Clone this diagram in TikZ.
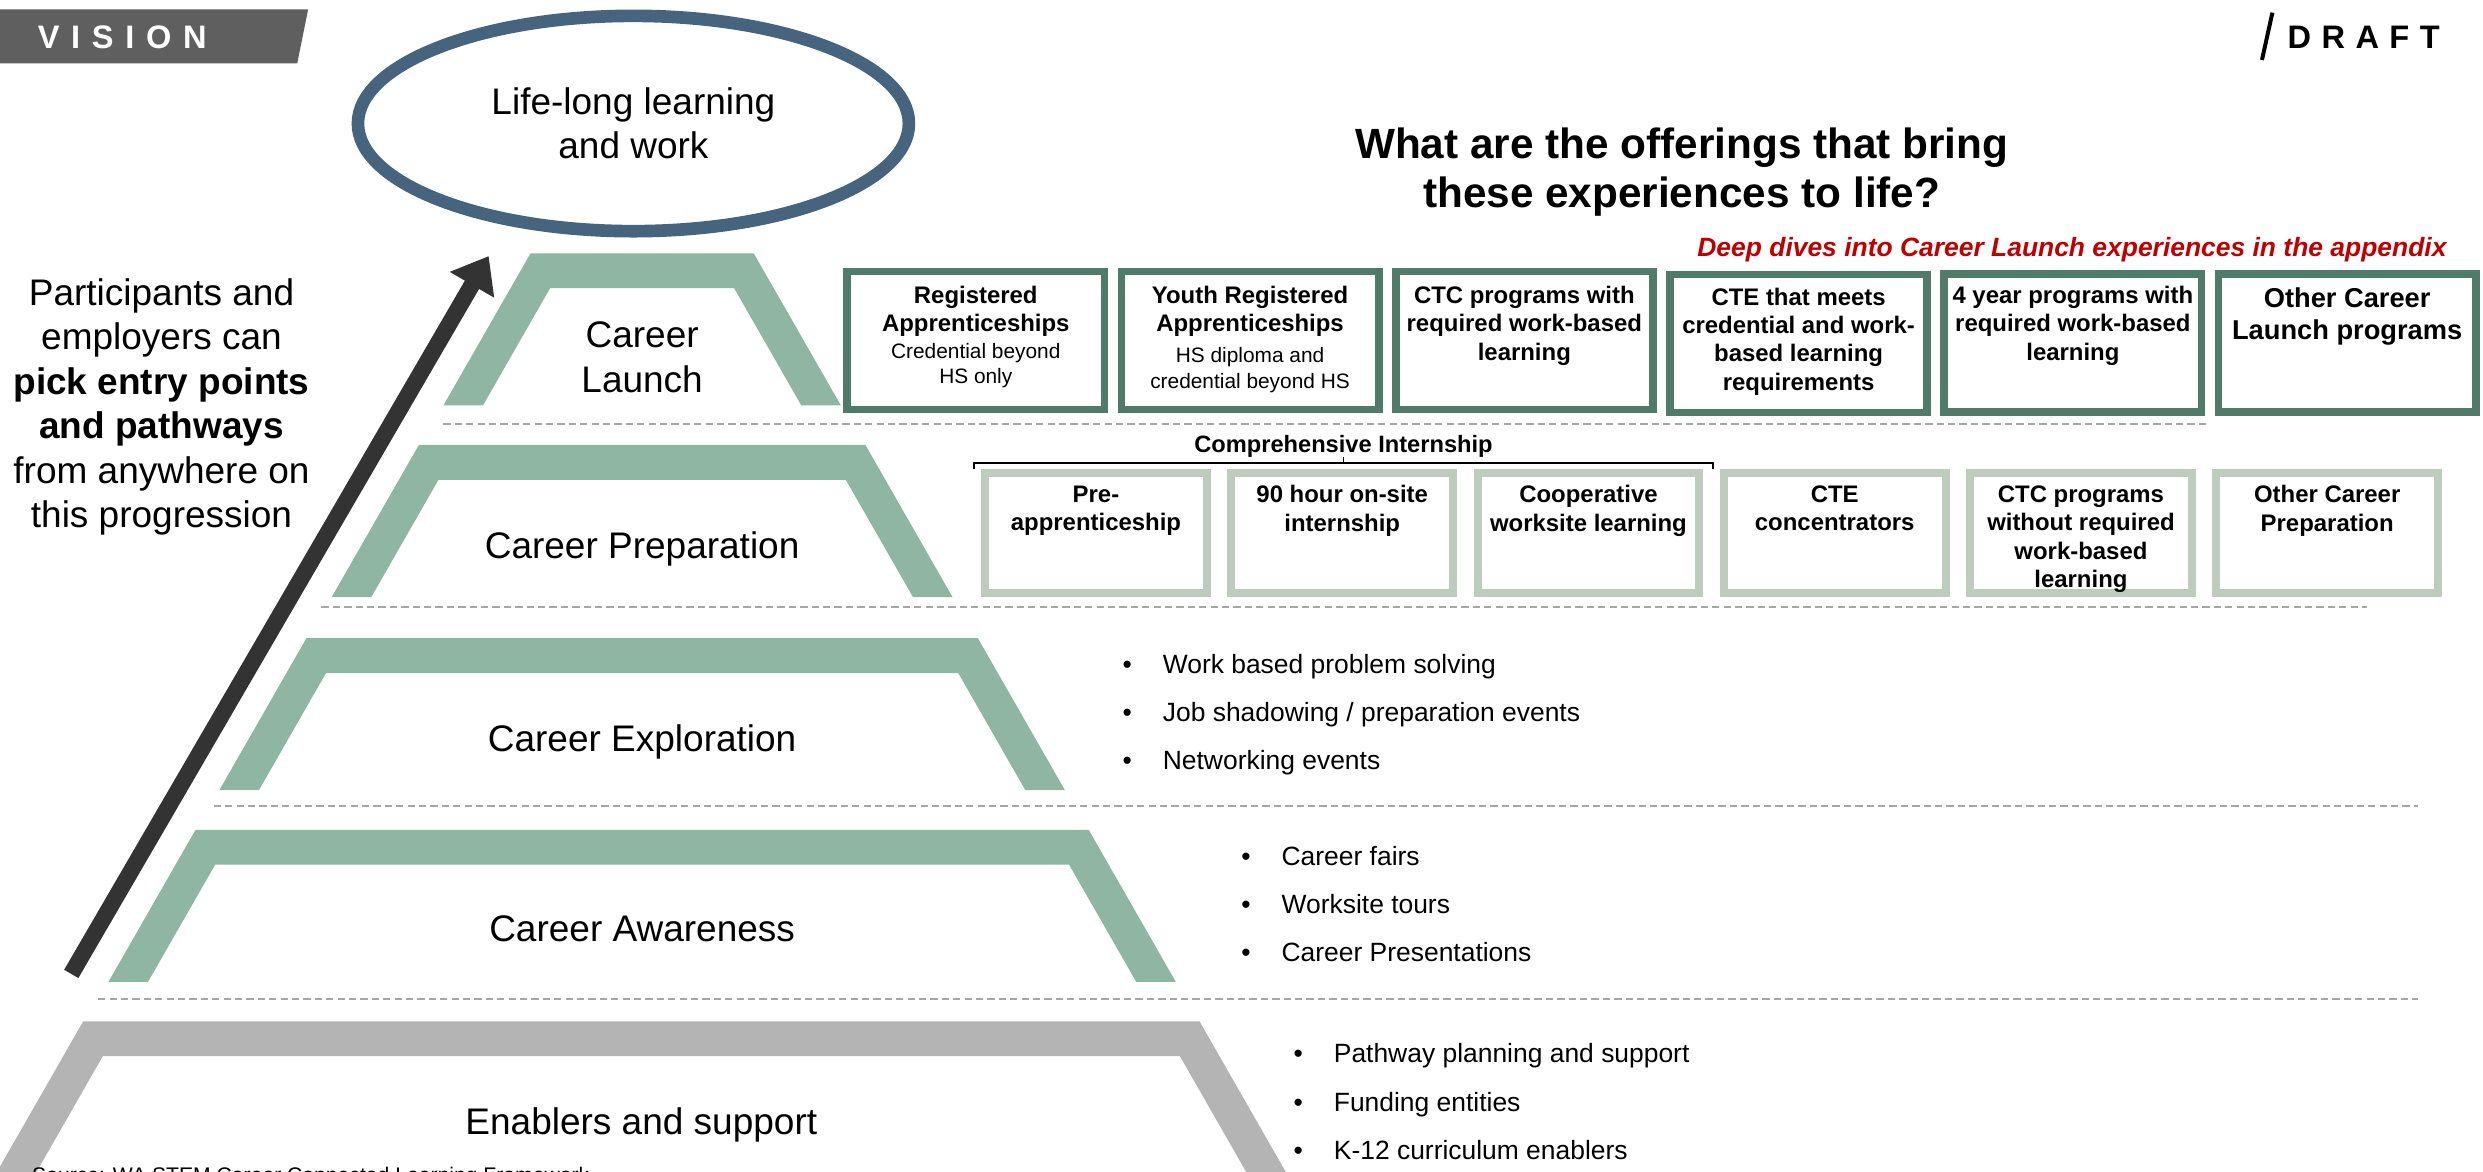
\documentclass[tikz,border=0pt]{standalone}
\usepackage{fontspec}
\setmainfont{Liberation Sans}
\newfontfamily\visionfont[LetterSpace=36]{Liberation Sans}
\newfontfamily\draftfont[LetterSpace=32]{Liberation Sans}
\usetikzlibrary{shapes.geometric, arrows.meta}

\definecolor{levelgreen}{HTML}{8FB5A3}
\definecolor{launchgreen}{HTML}{507A69}
\definecolor{prepgreen}{HTML}{BDCCBC}
\definecolor{enablegray}{HTML}{B4B4B4}
\definecolor{ovalblue}{HTML}{46647E}
\definecolor{arrowgray}{HTML}{333333}
\definecolor{bannergray}{HTML}{5F5F5F}
\definecolor{dashgray}{HTML}{A6A6A6}
\definecolor{deepred}{HTML}{C00000}

\newcommand{\levelfont}{\fontsize{13.3}{16}\selectfont}
\newcommand{\bitem}{\makebox[14.5pt][l]{\textbullet}}

\begin{document}
\begin{tikzpicture}[x=0.02cm, y=-0.02cm,
  levellabel/.style={anchor=base, align=center, inner sep=0pt, font=\levelfont},
  oval/.style={ellipse, draw=ovalblue, line width=0.16cm, minimum width=6.96cm,
    minimum height=2.72cm, inner sep=0pt, align=center, font=\levelfont},
  rise/.style={draw=arrowgray, line width=0.208cm,
    -{Triangle[width=0.62cm, length=0.42cm]}},
  sep/.style={draw=dashgray, line width=0.026cm, dash pattern=on 0.092cm off 0.052cm},
  launchbox/.style={draw=launchgreen, line width=0.096cm, minimum width=3.25cm,
    minimum height=1.744cm, inner sep=0pt},
  prepbox/.style={draw=prepgreen, line width=0.1cm, minimum width=2.8cm,
    minimum height=1.51cm, inner sep=0pt},
  boxhead/.style={anchor=north, align=center, inner sep=0pt,
    font=\fontsize{8.6}{10.2}\selectfont\bfseries},
  boxsub/.style={anchor=north, align=center, inner sep=0pt,
    font=\fontsize{7.5}{9.1}\selectfont},
  bullets/.style={anchor=north west, align=left, inner sep=0pt,
    font=\fontsize{9.5}{17.3}\selectfont},
  bracket/.style={line width=0.024cm}]

\useasboundingbox (0,0) rectangle (1568,740);
\clip (0,0) rectangle (1568,740);

% ============================
% Header: banner, draft mark
% ============================
\fill[bannergray] (0,5.9) -- (194.6,5.9) -- (187.7,40) -- (0,40) -- cycle;
\node[anchor=base west, inner sep=0pt, text=white,
  font=\visionfont\fontsize{11.7}{14}\selectfont\bfseries] (vision) at (23.5,30.6) {VISION};

\draw[line width=0.05cm] (1428.4,37.9) -- (1435,8);
\node[anchor=base west, inner sep=0pt,
  font=\draftfont\fontsize{11.7}{14}\selectfont\bfseries] (draft) at (1444.3,30.5) {DRAFT};

% ============================
% Pyramid levels (green)
% ============================
\foreach \ty/\hw in {160/70.5, 281/141, 403/212, 524/282} {
  \fill[levelgreen] (405.5-\hw,\ty) -- (405.5+\hw,\ty) -- (460.5+\hw,\ty+96)
    -- (435.5+\hw,\ty+96) -- (393.1+\hw,\ty+22) -- (417.9-\hw,\ty+22)
    -- (375.5-\hw,\ty+96) -- (350.5-\hw,\ty+96) -- cycle;
}

% Enablers (gray, runs off the page)
\fill[enablegray] (52.5,645) -- (757.5,645) -- (820.5,755) -- (795.5,755)
  -- (745.1,667) -- (64.9,667) -- (14.5,755) -- (-10.5,755) -- cycle;

% Level names
\node[levellabel, anchor=north] (launch) at (405.5,202.8) {Career\\Launch};
\node[levellabel] (prep)    at (405.5,352.5) {Career Preparation};
\node[levellabel] (explore) at (405.5,474.4) {Career Exploration};
\node[levellabel] (aware)   at (405.5,594.4) {Career Awareness};
\node[levellabel] (enable)  at (405,716.4)   {Enablers and support};

% Top goal
\node[oval] (lifelong) at (400,78) {Life-long learning\\and work};

% ============================
% Left: rising arrow and note
% ============================
\coordinate (risefoot) at (45,615);
\coordinate (risetip)  at (308.6,161.7);
\draw[rise] (risefoot) -- (risetip);

\node[anchor=north, align=center, inner sep=0pt, font=\levelfont] (entrynote) at (102,175.4)
{Participants and\\employers can\\\textbf{pick entry points}\\\textbf{and pathways}\\from anywhere on\\this progression};

% Dashed separators
\draw[sep] (280,268)   -- (1393,268);
\draw[sep] (203,383.5) -- (1495,383.5);
\draw[sep] (135,509)   -- (1527,509);
\draw[sep] (62,631)    -- (1527,631);

% ============================
% Right: title
% ============================
\node[anchor=north, align=center, inner sep=0pt,
  font=\fontsize{15.2}{17.6}\selectfont\bfseries] (question) at (1062,80.4)
{What are the offerings that bring\\these experiences to life?};

\node[anchor=base east, inner sep=0pt, text=deepred,
  font=\fontsize{9.5}{11}\selectfont\bfseries\itshape] (appendixnote) at (1545.3,162)
{Deep dives into Career Launch experiences in the appendix};

% ============================
% Career Launch offerings
% ============================
\node[launchbox] (cl1) at (616.2,215)   {};
\node[launchbox] (cl2) at (789.4,215)   {};
\node[launchbox] (cl3) at (962.6,215)   {};
\node[launchbox] (cl4) at (1135.8,217)  {};
\node[launchbox] (cl5) at (1309.0,216.5) {};
\node[launchbox] (cl6) at (1482.2,216.5) {};

\node[boxhead] (cl1txt) at (616.2,180.4) {Registered\\Apprenticeships};
\node[boxsub]  (cl1sub) at (616.2,216.6) {Credential beyond\\HS only};
\node[boxhead] (cl2txt) at (789.4,180.4) {Youth Registered\\Apprenticeships};
\node[boxsub]  (cl2sub) at (789.4,219.3) {HS diploma and\\credential beyond HS};
\node[boxhead] (cl3txt) at (962.6,180.4) {CTC programs with\\required work-based\\learning};
\node[boxhead] (cl4txt) at (1135.8,181.4) {CTE that meets\\credential and work-\\based learning\\requirements};
\node[boxhead] (cl5txt) at (1309.0,180.4) {4 year programs with\\required work-based\\learning};
\node[boxhead, font=\fontsize{9.8}{11.3}\selectfont\bfseries] (cl6txt) at (1482.2,181.6)
{Other Career\\Launch programs};

% ============================
% Career Preparation offerings
% ============================
\node[anchor=base, inner sep=0pt, font=\fontsize{8.5}{10}\selectfont\bfseries] (internship)
  at (848.4,286) {Comprehensive Internship};
\coordinate (brL) at (615.3,296);
\coordinate (brR) at (1081.5,296);
\draw[bracket] (brL) -- ++(0,-3.8) -| (brR);
\draw[bracket] (848.4,292.2) -- (848.4,288.8);

\node[prepbox] (cp1) at (692.1,336.7)  {};
\node[prepbox] (cp2) at (847.6,336.7)  {};
\node[prepbox] (cp3) at (1003.1,336.7) {};
\node[prepbox] (cp4) at (1158.6,336.7) {};
\node[prepbox] (cp5) at (1314.1,336.7) {};
\node[prepbox] (cp6) at (1469.6,336.7) {};

\node[boxhead] (cp1txt) at (692.1,306.3)  {Pre-\\apprenticeship};
\node[boxhead] (cp2txt) at (847.6,306.3)  {90 hour on-site\\internship};
\node[boxhead] (cp3txt) at (1003.1,306.3) {Cooperative\\worksite learning};
\node[boxhead] (cp4txt) at (1158.6,306.3) {CTE\\concentrators};
\node[boxhead] (cp5txt) at (1314.1,306.3) {CTC programs\\without required\\work-based\\learning};
\node[boxhead] (cp6txt) at (1469.6,306.3) {Other Career\\Preparation};

% ============================
% Bullet lists
% ============================
\node[bullets] (explist) at (708.5,412.8)
{\bitem Work based problem solving\\\bitem Job shadowing / preparation events\\\bitem Networking events};
\node[bullets] (awarelist) at (783.5,533.8)
{\bitem Career fairs\\\bitem Worksite tours\\\bitem Career Presentations};
\node[bullets] (enablelist) at (816.5,658.8)
{\bitem Pathway planning and support\\\bitem Funding entities\\\bitem K-12 curriculum enablers};

% Source line (cut by the page edge)
\node[anchor=base west, inner sep=0pt, font=\fontsize{7.6}{9}\selectfont] (source) at (20,746.6)
{Source: WA STEM Career Connected Learning Framework};

\end{tikzpicture}
\end{document}
